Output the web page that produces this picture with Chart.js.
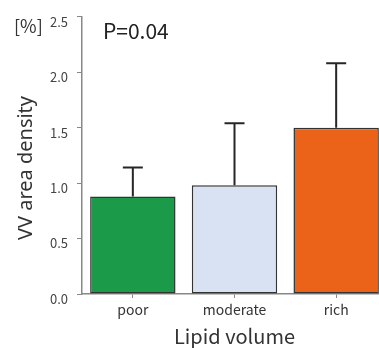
<!DOCTYPE html>
<html lang="en">
<head>
  <meta charset="UTF-8">
  <title>VV area density by lipid volume</title>
  <style>
    html, body {
      margin: 0;
      padding: 0;
      background: #fff;
      overflow: hidden;
      width: 379px;
      height: 348px;
    }
    canvas { display: block; }
  </style>
</head>
<body>
<canvas id="chart" width="387" height="348" style="width:387px;height:348px"></canvas>

<script src="https://cdn.jsdelivr.net/npm/chart.js@4.4.0/dist/chart.umd.min.js"></script>
<script>
  // values
  const categories = ['poor', 'moderate', 'rich'];
  const means = [0.88, 0.98, 1.50];
  const sds = [0.26, 0.56, 0.58];
  const barColors = ['#1b9b49', '#d9e2f3', '#ea6319'];
  const yTicks = [0, 0.5, 1.0, 1.5, 2.0, 2.5];

  const FONT = "'Noto Sans CJK JP', 'Noto Sans', sans-serif";
  const TITLE_FONT = "'Noto Sans', sans-serif";

  // upward error bars (mean + SD)
  const errorBars = {
    id: 'errorBars',
    afterDatasetsDraw(chart) {
      const ctx = chart.ctx;
      const y = chart.scales.y;
      const meta = chart.getDatasetMeta(0);
      ctx.save();
      ctx.strokeStyle = '#262626';
      ctx.lineWidth = 2;
      meta.data.forEach((bar, i) => {
        const top = y.getPixelForValue(means[i] + sds[i]);
        ctx.beginPath();
        ctx.moveTo(bar.x, bar.y);
        ctx.lineTo(bar.x, top);
        ctx.moveTo(bar.x - 10, top);
        ctx.lineTo(bar.x + 10, top);
        ctx.stroke();
      });
      ctx.restore();
    }
  };

  // unit label, y title and p value
  const annotations = {
    id: 'annotations',
    afterDraw(chart) {
      const ctx = chart.ctx;
      ctx.save();
      ctx.textBaseline = 'middle';
      ctx.textAlign = 'left';
      ctx.fillStyle = '#333';
      ctx.font = '18px ' + FONT;
      ctx.fillText('[%]', 14, 26);
      ctx.fillStyle = '#222';
      ctx.font = '21px ' + FONT;
      ctx.fillText('P=0.04', 103, 31);

      ctx.translate(26, 168);
      ctx.rotate(-Math.PI / 2);
      ctx.textAlign = 'center';
      ctx.fillStyle = '#333';
      ctx.font = '20px ' + TITLE_FONT;
      ctx.fillText('VV area density', 0, 0);
      ctx.restore();
    }
  };

  new Chart(document.getElementById('chart'), {
    type: 'bar',
    data: {
      labels: categories,
      datasets: [{
        data: means,
        backgroundColor: barColors,
        borderColor: '#333',
        borderWidth: 1.5,
        borderSkipped: false,
        barPercentage: 0.84,
        categoryPercentage: 1
      }]
    },
    options: {
      responsive: false,
      animation: false,
      layout: { padding: { top: 16, right: 0, bottom: 0, left: 0 } },
      plugins: {
        legend: { display: false },
        tooltip: { enabled: false }
      },
      scales: {
        x: {
          afterFit: s => { s.height = 54; },
          grid: { drawOnChartArea: false, offset: false, tickLength: 4, color: '#888' },
          border: { color: '#888', width: 1.5 },
          ticks: { color: '#333', font: { family: FONT, size: 14 }, padding: 3 },
          title: {
            display: true,
            text: 'Lipid volume',
            color: '#333',
            font: { family: FONT, size: 20 },
            padding: { top: 0, bottom: 0 }
          }
        },
        y: {
          min: 0,
          max: 2.5,
          afterFit: s => { s.width = 82; },
          afterBuildTicks: s => { s.ticks = yTicks.map(v => ({ value: v })); },
          grid: { drawOnChartArea: false, tickLength: 5, color: '#888' },
          border: { color: '#888', width: 1.5 },
          ticks: {
            color: '#444',
            font: { family: FONT, size: 13 },
            padding: 9,
            labelOffset: 5,
            callback: v => Number(v).toFixed(1)
          },
          title: { display: false }
        }
      }
    },
    plugins: [errorBars, annotations]
  });
</script>
</body>
</html>
